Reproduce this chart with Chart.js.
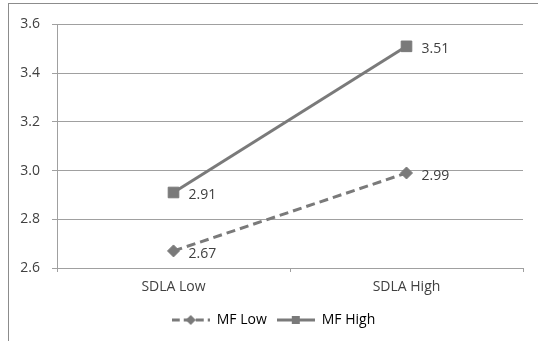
<!DOCTYPE html>
<html>
<head>
<meta charset="utf-8">
<script src="https://cdn.jsdelivr.net/npm/chart.js@4"></script>
<style>
  html, body { margin: 0; padding: 0; background: #fff; }
  body { width: 538px; height: 341px; overflow: hidden; position: relative; }
  .frame { position: absolute; left: 8px; top: 3px; width: 529px; height: 337px; border-left: 1px solid #8c8c8c; border-top: 1px solid #8c8c8c; }
  .chart-container { position: absolute; left: 9px; top: 4px; width: 529px; height: 337px; }
</style>
</head>
<body>
<div class="frame"></div>
<div class="chart-container"><canvas id="chart" width="529" height="337"></canvas></div>
<script>
const categories = ['SDLA Low', 'SDLA High']
const mfLow = [2.67, 2.99]
const mfHigh = [2.91, 3.51]
const yTicks = [2.6, 2.8, 3.0, 3.2, 3.4, 3.6]

const lineColor = '#7a7a7a'
const gridColor = '#a0a0a0'
const textColor = '#404040'

Chart.defaults.font.family = "'Open Sans', 'Noto Sans', sans-serif"
Chart.defaults.font.size = 14
Chart.defaults.color = textColor

// little line + marker picture for each legend entry
const makeLegendIcon = (dashed, shape) => {
  const c = document.createElement('canvas')
  c.width = 38
  c.height = 14
  const ctx = c.getContext('2d')
  ctx.strokeStyle = lineColor
  ctx.fillStyle = lineColor
  ctx.lineWidth = 3
  ctx.setLineDash(dashed ? [8, 4] : [])
  ctx.beginPath()
  ctx.moveTo(0, 7)
  ctx.lineTo(38, 7)
  ctx.stroke()
  ctx.setLineDash([])
  ctx.beginPath()
  if (shape === 'diamond') {
    ctx.moveTo(19, 2)
    ctx.lineTo(24, 7)
    ctx.lineTo(19, 12)
    ctx.lineTo(14, 7)
  } else {
    ctx.rect(15, 3, 8, 8)
  }
  ctx.fill()
  return c
}
const legendIcons = [makeLegendIcon(true, 'diamond'), makeLegendIcon(false, 'square')]

const valueLabels = {
  id: 'valueLabels',
  afterDatasetsDraw(chart) {
    const { ctx } = chart
    ctx.save()
    ctx.fillStyle = textColor
    ctx.font = "14px 'Open Sans', 'Noto Sans', sans-serif"
    ctx.textAlign = 'left'
    ctx.textBaseline = 'middle'
    chart.data.datasets.forEach((ds, i) => {
      chart.getDatasetMeta(i).data.forEach((pt, j) => {
        ctx.fillText(ds.data[j].toFixed(2), pt.x + 15, pt.y + 3)
      })
    })
    ctx.restore()
  },
}

new Chart(document.getElementById('chart'), {
  type: 'line',
  data: {
    labels: categories,
    datasets: [
      {
        label: 'MF Low',
        data: mfLow,
        borderColor: lineColor,
        backgroundColor: lineColor,
        borderWidth: 3,
        borderDash: [9, 5],
        pointStyle: 'rectRot',
        pointRadius: 6,
        pointBorderWidth: 1,
        fill: false,
      },
      {
        label: 'MF High',
        data: mfHigh,
        borderColor: lineColor,
        backgroundColor: lineColor,
        borderWidth: 3,
        pointStyle: 'rect',
        pointRadius: 7.5,
        pointBorderWidth: 1,
        fill: false,
      },
    ],
  },
  options: {
    responsive: false,
    animation: false,
    events: [],
    layout: { padding: { top: 16, left: 0, right: 0, bottom: 4 } },
    scales: {
      x: {
        offset: true,
        grid: { drawOnChartArea: false, tickLength: 4, color: gridColor, offset: true },
        border: { color: gridColor },
        ticks: { padding: 7, color: textColor },
        afterFit: (scale) => { scale.height = 35 },
      },
      y: {
        min: 2.6,
        max: 3.6,
        grid: { tickLength: 5, color: gridColor },
        border: { color: gridColor },
        ticks: { padding: 12, color: textColor, callback: (v) => Number(v).toFixed(1) },
        afterBuildTicks: (scale) => { scale.ticks = yTicks.map((v) => ({ value: v })) },
        afterFit: (scale) => { scale.width = 48 },
      },
      yRight: {
        type: 'linear',
        axis: 'y',
        position: 'right',
        grid: { display: false },
        border: { display: false },
        ticks: { display: false },
        afterFit: (scale) => { scale.width = 15 },
      },
    },
    plugins: {
      tooltip: { enabled: false },
      legend: {
        position: 'bottom',
        labels: {
          usePointStyle: true,
          pointStyleWidth: 38,
          padding: 10,
          color: textColor,
          generateLabels: (chart) =>
            chart.data.datasets.map((ds, i) => ({
              text: ds.label,
              pointStyle: legendIcons[i],
              fillStyle: lineColor,
              strokeStyle: lineColor,
              lineWidth: 0,
              hidden: false,
              datasetIndex: i,
            })),
        },
      },
    },
  },
  plugins: [valueLabels],
})
</script>
</body>
</html>
